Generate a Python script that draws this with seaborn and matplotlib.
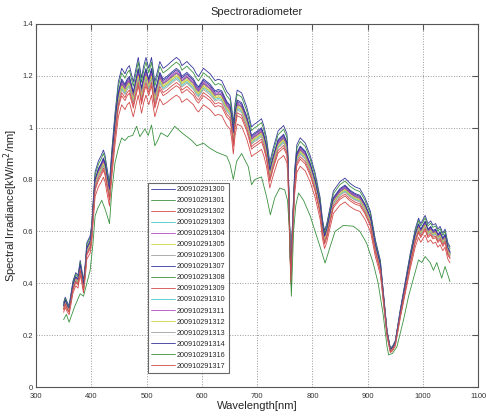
import numpy as np
import pandas as pd
import matplotlib
matplotlib.use("Agg")
import matplotlib.pyplot as plt
import seaborn as sns

# base spectrum
wavelength = [350, 353, 357, 360, 364, 367, 372, 376, 380, 383, 386, 389, 392, 398,
              401, 403, 407, 410, 413, 418, 422, 425, 428, 433, 437, 443, 449, 455,
              461, 465, 469, 476, 481, 485, 491, 495, 499, 504, 509, 515, 520, 524,
              530, 537, 545, 554, 560, 564, 573, 580, 585, 590, 594, 603, 609, 615,
              624, 630, 636, 645, 651, 654, 657, 660, 664, 672, 681, 686, 690, 695,
              699, 708, 712, 717, 720, 723, 729, 738, 748, 754, 756, 758, 761, 763,
              765, 768, 772, 778, 787, 796, 805, 814, 818, 822, 826, 829, 838, 850,
              859, 868, 877, 886, 895, 905, 914, 923, 929, 935, 941, 945, 950, 959,
              968, 977, 986, 992, 996, 1000, 1004, 1009, 1014, 1018, 1023, 1027, 1031,
              1036, 1040, 1045, 1049]
irradiance = [0.31, 0.33, 0.31, 0.30, 0.35, 0.39, 0.42, 0.41, 0.465, 0.43, 0.39, 0.45,
              0.53, 0.555, 0.60, 0.67, 0.79, 0.81, 0.83, 0.85, 0.87, 0.85, 0.81, 0.75,
              0.865, 1.005, 1.12, 1.17, 1.15, 1.17, 1.18, 1.12, 1.17, 1.21, 1.135, 1.18,
              1.21, 1.17, 1.21, 1.12, 1.16, 1.195, 1.17, 1.18, 1.195, 1.21, 1.20, 1.18,
              1.195, 1.18, 1.17, 1.15, 1.14, 1.17, 1.16, 1.15, 1.125, 1.13, 1.125, 1.085,
              1.07, 1.03, 0.966, 1.04, 1.09, 1.08, 1.03, 0.99, 0.955, 0.965, 0.97, 0.985,
              0.96, 0.915, 0.87, 0.825, 0.876, 0.94, 0.96, 0.93, 0.85, 0.68, 0.426, 0.55,
              0.65, 0.80, 0.89, 0.915, 0.896, 0.85, 0.786, 0.696, 0.62, 0.574, 0.60, 0.63,
              0.72, 0.754, 0.767, 0.748, 0.735, 0.728, 0.696, 0.645, 0.54, 0.465, 0.336,
              0.21, 0.143, 0.15, 0.17, 0.285, 0.387, 0.49, 0.58, 0.62, 0.60, 0.615, 0.63,
              0.60, 0.61, 0.595, 0.60, 0.58, 0.59, 0.565, 0.58, 0.53, 0.515]

# relative level of each measurement against the base spectrum
series = ["200910291300", "200910291301", "200910291302", "200910291303",
          "200910291304", "200910291305", "200910291306", "200910291307",
          "200910291308", "200910291309", "200910291310", "200910291311",
          "200910291312", "200910291313", "200910291314", "200910291316",
          "200910291317"]
levels = [1.05, 1.035, 0.93, 1.0, 1.005, 0.995, 0.99, 1.01, 1.0, 0.96, 0.985,
          1.0, 0.99, 0.98, 1.015, None, 0.97]

# the cloudy measurement (1316) read separately
wl_1316 = [350, 355, 360, 370, 380, 386, 392, 398, 403, 407, 412, 419, 426, 433, 437,
           443, 449, 455, 461, 467, 475, 482, 488, 497, 503, 509, 515, 520, 526, 538,
           551, 564, 573, 582, 591, 603, 615, 627, 645, 651, 657, 663, 672, 684, 690,
           696, 708, 717, 724, 732, 741, 750, 755, 758, 762, 766, 770, 775, 784, 796,
           805, 814, 823, 832, 841, 856, 874, 886, 898, 910, 919, 928, 935, 938, 945,
           953, 965, 974, 983, 992, 998, 1004, 1013, 1019, 1025, 1034, 1040, 1049]
irr_1316 = [0.26, 0.28, 0.25, 0.31, 0.36, 0.35, 0.40, 0.45, 0.55, 0.66, 0.69, 0.72, 0.68,
            0.63, 0.75, 0.865, 0.92, 0.96, 0.95, 0.965, 0.97, 1.005, 0.965, 0.995, 0.97,
            1.01, 0.93, 0.95, 0.98, 0.965, 1.005, 0.98, 0.965, 0.95, 0.93, 0.94, 0.92,
            0.905, 0.89, 0.86, 0.80, 0.87, 0.90, 0.85, 0.78, 0.80, 0.81, 0.735, 0.664,
            0.73, 0.767, 0.76, 0.72, 0.62, 0.35, 0.60, 0.70, 0.748, 0.72, 0.66, 0.60, 0.54,
            0.478, 0.54, 0.60, 0.623, 0.62, 0.60, 0.555, 0.478, 0.40, 0.28, 0.156, 0.124,
            0.13, 0.156, 0.26, 0.35, 0.42, 0.49, 0.48, 0.503, 0.48, 0.45, 0.48, 0.42,
            0.465, 0.406]

frames = []
for name, lev in zip(series, levels):
    if lev is None:
        frames.append(pd.DataFrame({"wl": wl_1316, "irr": irr_1316, "series": name}))
    else:
        frames.append(pd.DataFrame({"wl": wavelength,
                                    "irr": np.array(irradiance) * lev,
                                    "series": name}))
df = pd.concat(frames, ignore_index=True)

# matlab default colour cycle (b g r c m y k)
cycle = ["#34349c", "#3a913f", "#d24a4a", "#45c8c8", "#b246c2", "#d4d444", "#a0a0a0"]
palette = {name: cycle[i % 7] for i, name in enumerate(series)}

sns.set_style("white")
plt.rcParams["font.family"] = ["Liberation Sans", "DejaVu Sans"]

fig = plt.figure(figsize=(4.86, 4.18), dpi=100)
ax = fig.add_axes([0.074, 0.074, 0.910, 0.869])

sns.lineplot(data=df, x="wl", y="irr", hue="series", hue_order=series,
             palette=palette, linewidth=0.6, sort=False, estimator=None, ax=ax)

ax.set_xlim(300, 1100)
ax.set_ylim(0, 1.4)
ax.set_xticks(range(300, 1101, 100))
ax.set_yticks([0, 0.2, 0.4, 0.6, 0.8, 1, 1.2, 1.4])
ax.set_yticklabels(["0", "0.2", "0.4", "0.6", "0.8", "1", "1.2", "1.4"])
ax.tick_params(direction="in", length=4, labelsize=5.5, colors="#555555",
               labelcolor="#333333", top=True, right=True)
ax.tick_params(axis="x", pad=4)
ax.tick_params(axis="y", pad=2)
ax.grid(True, linestyle=":", color="#9a9a9a", linewidth=0.7)
for s in ax.spines.values():
    s.set_color("#555555")
    s.set_linewidth(0.8)

ax.set_xlabel("Wavelength[nm]", fontsize=8, labelpad=1)
ax.set_ylabel("Spectral Irradiance[kW/m$^2$/nm]", fontsize=8, labelpad=2)
ax.set_title("Spectroradiometer", fontsize=8, pad=6)

leg = ax.legend(loc="lower left", bbox_to_anchor=(0.253, 0.038), fontsize=5.2,
                frameon=True, fancybox=False, handlelength=3.2, handletextpad=0.3,
                labelspacing=0.55, borderpad=0.5, borderaxespad=0)
leg.get_frame().set_edgecolor("#444444")
leg.get_frame().set_linewidth(0.8)

fig.savefig("out.png", dpi=100)
